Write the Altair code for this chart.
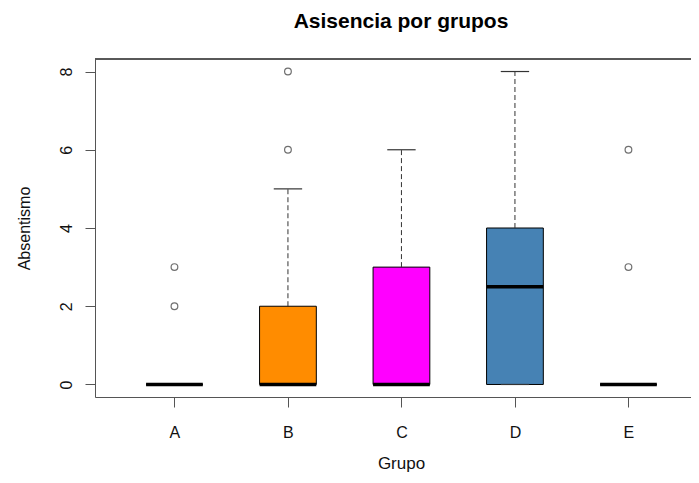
import altair as alt
import pandas as pd

# ---- data ----
grupos = ["A", "B", "C", "D", "E"]
q1 = [0, 0, 0, 0, 0]
mediana = [0, 0, 0, 2.5, 0]
q3 = [0, 2, 3, 4, 0]
bigote_inf = [0, 0, 0, 0, 0]
bigote_sup = [0, 5, 6, 8, 0]
colores = ["white", "#FF8C00", "#FF00FF", "#4682B4", "white"]
atipicos_grupo = ["A", "A", "B", "B", "E", "E"]
atipicos_valor = [2, 3, 6, 8, 3, 6]

pos = {g: i + 1 for i, g in enumerate(grupos)}
HALF = 0.25
CAP = 0.125

df = pd.DataFrame({
    "grupo": grupos, "q1": q1, "med": mediana, "q3": q3,
    "lo": bigote_inf, "hi": bigote_sup, "color": colores,
})
df["x"] = df["grupo"].map(pos)
df["xl"] = df["x"] - HALF
df["xr"] = df["x"] + HALF
df["cl"] = df["x"] - CAP
df["cr"] = df["x"] + CAP

dout = pd.DataFrame({"grupo": atipicos_grupo, "valor": atipicos_valor})
dout["x"] = dout["grupo"].map(pos)

PL, PT = 87, 51
W, H = 596, 338
PB = 467 - PT - H
FONT = "Liberation Sans"
FRAME = "#555555"

labels_js = "[" + ",".join("'%s'" % g for g in grupos) + "]"
xscale = alt.Scale(domain=[0.3, 0.3 + W / 113.5], nice=False, zero=False)
yscale = alt.Scale(domain=[-0.32, 8.32], nice=False, zero=False)

xaxis = alt.Axis(
    values=list(range(1, len(grupos) + 1)),
    labelExpr=labels_js + "[datum.value - 1]",
    title="Grupo", grid=False, tickSize=10, tickColor=FRAME, domainColor=FRAME,
    labelFont=FONT, labelFontSize=16, labelColor="#111111",
    labelBaseline="alphabetic", labelPadding=30, labelAlign="center",
    titleFont=FONT, titleFontSize=17, titleFontWeight="normal", titleColor="#111111",
    titleBaseline="alphabetic", titleX=306, titleY=71, titleAlign="center",
)
yaxis = alt.Axis(
    values=[0, 2, 4, 6, 8], title="Absentismo", grid=False, tickSize=10,
    tickColor=FRAME, domainColor=FRAME,
    labelFont=FONT, labelFontSize=16, labelColor="#111111", labelAngle=270,
    labelAlign="center", labelBaseline="alphabetic", labelPadding=14,
    titleFont=FONT, titleFontSize=16, titleFontWeight="normal", titleColor="#111111",
    titleAngle=270, titleBaseline="alphabetic", titleAlign="center",
    titleX=-66, titleY=H / 2,
)

base = alt.Chart(df)

boxes = base.mark_rect(stroke="black", strokeWidth=1).encode(
    x=alt.X("xl:Q", scale=xscale, axis=xaxis),
    x2="xr:Q",
    y=alt.Y("q1:Q", scale=yscale, axis=yaxis),
    y2="q3:Q",
    fill=alt.Fill("color:N", scale=None),
)

whisk_hi = base.mark_rule(color="#333333", strokeDash=[5, 3], strokeWidth=1).encode(
    x="x:Q", y="q3:Q", y2="hi:Q"
)
whisk_lo = base.mark_rule(color="#333333", strokeDash=[5, 3], strokeWidth=1).encode(
    x="x:Q", y="lo:Q", y2="q1:Q"
)
cap_hi = base.mark_rule(color="#333333", strokeWidth=1.2).encode(
    x="cl:Q", x2="cr:Q", y="hi:Q"
)
cap_lo = base.mark_rule(color="#333333", strokeWidth=1.2).encode(
    x="cl:Q", x2="cr:Q", y="lo:Q"
)
med = base.mark_rule(color="black", strokeWidth=3.5).encode(
    x="xl:Q", x2="xr:Q", y="med:Q"
)
outl = alt.Chart(dout).mark_point(
    shape="circle", filled=False, size=45, stroke="#333333", strokeWidth=1.2
).encode(x="x:Q", y="valor:Q")

top = alt.Chart(df).mark_rule(color=FRAME, strokeWidth=1).encode(
    x=alt.value(0), x2=alt.value(W), y=alt.value(0)
)

chart = alt.layer(
    boxes, whisk_lo, whisk_hi, cap_lo, cap_hi, med, outl, top
).properties(
    width=W, height=H,
    title=alt.TitleParams(
        "Asisencia por grupos", font=FONT, fontSize=21, fontWeight="bold",
        color="black", anchor="middle", baseline="alphabetic", offset=10, dx=8,
    ),
    autosize=alt.AutoSizeParams(type="none"),
    padding={"left": PL, "top": PT, "right": 0, "bottom": PB},
).configure_view(stroke=None).configure(background="white")

chart.save("out.html", embed_options={"renderer": "svg", "actions": False})
